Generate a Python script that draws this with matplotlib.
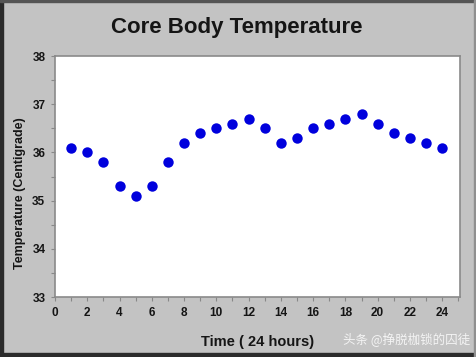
import matplotlib
matplotlib.use('Agg')
import matplotlib.pyplot as plt
from matplotlib.patches import Rectangle
from matplotlib.ticker import MultipleLocator

# hourly core body temperature readings
hours = [1, 2, 3, 4, 5, 6, 7, 8, 9, 10, 11, 12,
         13, 14, 15, 16, 17, 18, 19, 20, 21, 22, 23, 24]
temps = [36.1, 36.0, 35.8, 35.3, 35.1, 35.3, 35.8, 36.2, 36.4, 36.5, 36.6, 36.7,
         36.5, 36.2, 36.3, 36.5, 36.6, 36.7, 36.8, 36.6, 36.4, 36.3, 36.2, 36.1]
x_ticks = [0, 2, 4, 6, 8, 10, 12, 14, 16, 18, 20, 22, 24]
y_ticks = [33, 34, 35, 36, 37, 38]

plt.rcParams['font.family'] = ['Liberation Sans', 'DejaVu Sans']

fig = plt.figure(figsize=(4.77, 3.57), dpi=100)
fig.patch.set_facecolor('#c3c3c3')

# dark frame round the picture (left / bottom darker)
fig.patches.append(Rectangle((0, 0), 0.007, 1, transform=fig.transFigure,
                             color='#2b2b2b', zorder=0))
fig.patches.append(Rectangle((0, 0), 1, 0.011, transform=fig.transFigure,
                             color='#2b2b2b', zorder=0))
fig.patches.append(Rectangle((0, 0.995), 1, 0.005, transform=fig.transFigure,
                             color='#555555', zorder=0))
fig.patches.append(Rectangle((0.994, 0), 0.006, 1, transform=fig.transFigure,
                             color='#8f8f8f', zorder=0))

ax = fig.add_axes([0.1153, 0.168, 0.849, 0.675])
ax.set_facecolor('white')
ax.plot(hours, temps, 'o', color='#0000dd', markersize=7.5, markeredgewidth=0)

ax.set_xlim(0, 25.1)
ax.set_ylim(33, 38)
ax.set_xticks(x_ticks)
ax.set_yticks(y_ticks)
ax.xaxis.set_minor_locator(MultipleLocator(1))
ax.yaxis.set_minor_locator(MultipleLocator(0.5))
ax.tick_params(which='both', direction='out', color='#888888', length=3, width=0.8,
               labelsize=8.5, pad=4)
for lab in ax.get_xticklabels() + ax.get_yticklabels():
    lab.set_fontweight('bold')
    lab.set_color('#151515')
for s in ax.spines.values():
    s.set_color('#8a8a8a')
    s.set_linewidth(1.2)

fig.text(0.497, 0.924, 'Core Body Temperature', ha='center', va='center',
         fontsize=16, fontweight='bold', color='#151515')
ax.set_xlabel('Time ( 24 hours)', fontsize=10.5, fontweight='bold', color='#151515',
              labelpad=12)
ax.set_ylabel('Temperature (Centigrade)', fontsize=9, fontweight='bold', color='#151515',
              labelpad=6)
ax.yaxis.set_label_coords(-0.072, 0.43)

fig.text(0.985, 0.048, '头条 @挣脱枷锁的囚徒', ha='right', va='center', fontsize=9,
         color='#f4f4f4', family=['Noto Sans CJK SC', 'DejaVu Sans'])

fig.savefig('out.png', dpi=100, facecolor=fig.get_facecolor())
